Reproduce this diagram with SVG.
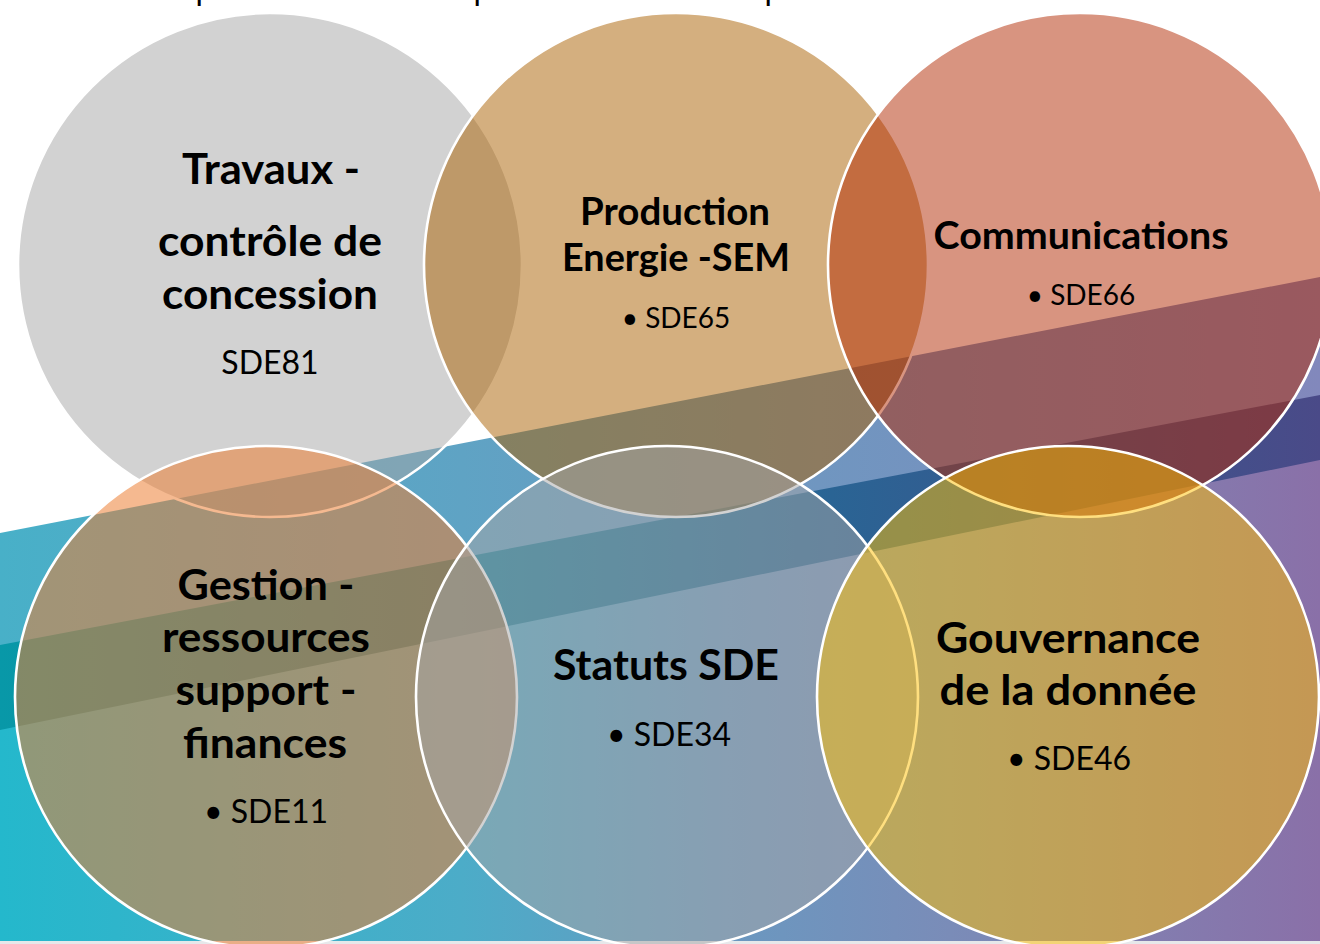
<svg xmlns="http://www.w3.org/2000/svg" width="1320" height="944" viewBox="0 0 1320 944">
<defs>
<linearGradient id="gLight" gradientUnits="userSpaceOnUse" x1="0" y1="0" x2="1320" y2="0">
<stop offset="0" stop-color="#48b0c8"/><stop offset="0.35" stop-color="#5fa3c4"/><stop offset="0.62" stop-color="#7096c0"/><stop offset="1" stop-color="#8288bc"/>
</linearGradient>
<linearGradient id="gDark" gradientUnits="userSpaceOnUse" x1="0" y1="0" x2="1320" y2="0">
<stop offset="0" stop-color="#0898a8"/><stop offset="0.35" stop-color="#17839f"/><stop offset="0.63" stop-color="#2a6494"/><stop offset="1" stop-color="#4a4a88"/>
</linearGradient>
<linearGradient id="gBottom" gradientUnits="userSpaceOnUse" x1="0" y1="0" x2="1320" y2="0">
<stop offset="0" stop-color="#24b8cc"/><stop offset="0.35" stop-color="#4cacc8"/><stop offset="0.55" stop-color="#6a98c0"/><stop offset="0.72" stop-color="#7a8cb8"/><stop offset="1" stop-color="#8a70a8"/>
</linearGradient>
<style>
.c{stroke:#ffffff;stroke-width:2.6}
.t{font-family:Lato,"Noto Sans","DejaVu Sans",sans-serif;fill:#000000;text-anchor:middle}
.h1{font-weight:700;font-size:42px}
.h2{font-weight:700;font-size:38px}
.s1{font-weight:400;font-size:32px}
.s2{font-weight:400;font-size:28px}
.cut{font-family:Lato,"Noto Sans",sans-serif;font-size:32px;fill:#000000}
</style>
</defs>
<g id="background">
<rect x="0" y="0" width="1320" height="944" fill="#ffffff"/>
<polygon points="0,533 1320,277 1320,944 0,944" fill="url(#gLight)"/>
<polygon points="0,645 1320,395 1320,944 0,944" fill="url(#gDark)"/>
<polygon points="0,730 1320,460 1320,944 0,944" fill="url(#gBottom)"/>
<rect x="0" y="941" width="1320" height="3" fill="#e6e8ea"/>
<text class="cut" x="195.5" y="0">p</text>
<text class="cut" x="473.5" y="0">p</text>
<text class="cut" x="764.5" y="0">p</text>
</g>
<g id="connectors"/>
<g id="travaux">
<circle class="c" cx="270" cy="265" r="252" fill="#a5a5a5" fill-opacity="0.5"/>
<text class="t h1" x="271" y="184" textLength="178" lengthAdjust="spacingAndGlyphs">Travaux -</text>
<text class="t h1" x="270" y="256" textLength="224" lengthAdjust="spacingAndGlyphs">contrôle de</text>
<text class="t h1" x="270" y="309" textLength="216" lengthAdjust="spacingAndGlyphs">concession</text>
<text class="t s1" x="270" y="374">SDE81</text>
</g>
<g id="production">
<circle class="c" cx="676" cy="265" r="252" fill="#aa5f00" fill-opacity="0.5"/>
<text class="t h2" x="675" y="225" textLength="190" lengthAdjust="spacingAndGlyphs">Production</text>
<text class="t h2" x="676" y="271" textLength="228" lengthAdjust="spacingAndGlyphs">Energie -SEM</text>
<text class="t s2" x="676" y="328">• SDE65</text>
</g>
<g id="communications">
<circle class="c" cx="1080" cy="265" r="252" fill="#b22a02" fill-opacity="0.5"/>
<text class="t h2" x="1081" y="249" textLength="295" lengthAdjust="spacingAndGlyphs">Communications</text>
<text class="t s2" x="1081" y="305">• SDE66</text>
</g>
<g id="gestion">
<circle class="c" cx="266" cy="697" r="251" fill="#ed7d31" fill-opacity="0.54"/>
<text class="t h1" x="266" y="600" textLength="177" lengthAdjust="spacingAndGlyphs">Gestion -</text>
<text class="t h1" x="266" y="652" textLength="208" lengthAdjust="spacingAndGlyphs">ressources</text>
<text class="t h1" x="266" y="705" textLength="181" lengthAdjust="spacingAndGlyphs">support -</text>
<text class="t h1" x="265" y="758" textLength="164" lengthAdjust="spacingAndGlyphs">finances</text>
<text class="t s1" x="266" y="823">• SDE11</text>
</g>
<g id="statuts">
<circle class="c" cx="667" cy="697" r="251" fill="#a5a5a5" fill-opacity="0.5"/>
<text class="t h1" x="666" y="680" textLength="226" lengthAdjust="spacingAndGlyphs">Statuts SDE</text>
<text class="t s1" x="669" y="746">• SDE34</text>
</g>
<g id="gouvernance">
<circle class="c" cx="1068" cy="697" r="251" fill="#ffc000" fill-opacity="0.5"/>
<text class="t h1" x="1068" y="653" textLength="264" lengthAdjust="spacingAndGlyphs">Gouvernance</text>
<text class="t h1" x="1068" y="705" textLength="257" lengthAdjust="spacingAndGlyphs">de la donnée</text>
<text class="t s1" x="1069" y="770">• SDE46</text>
</g>
</svg>
